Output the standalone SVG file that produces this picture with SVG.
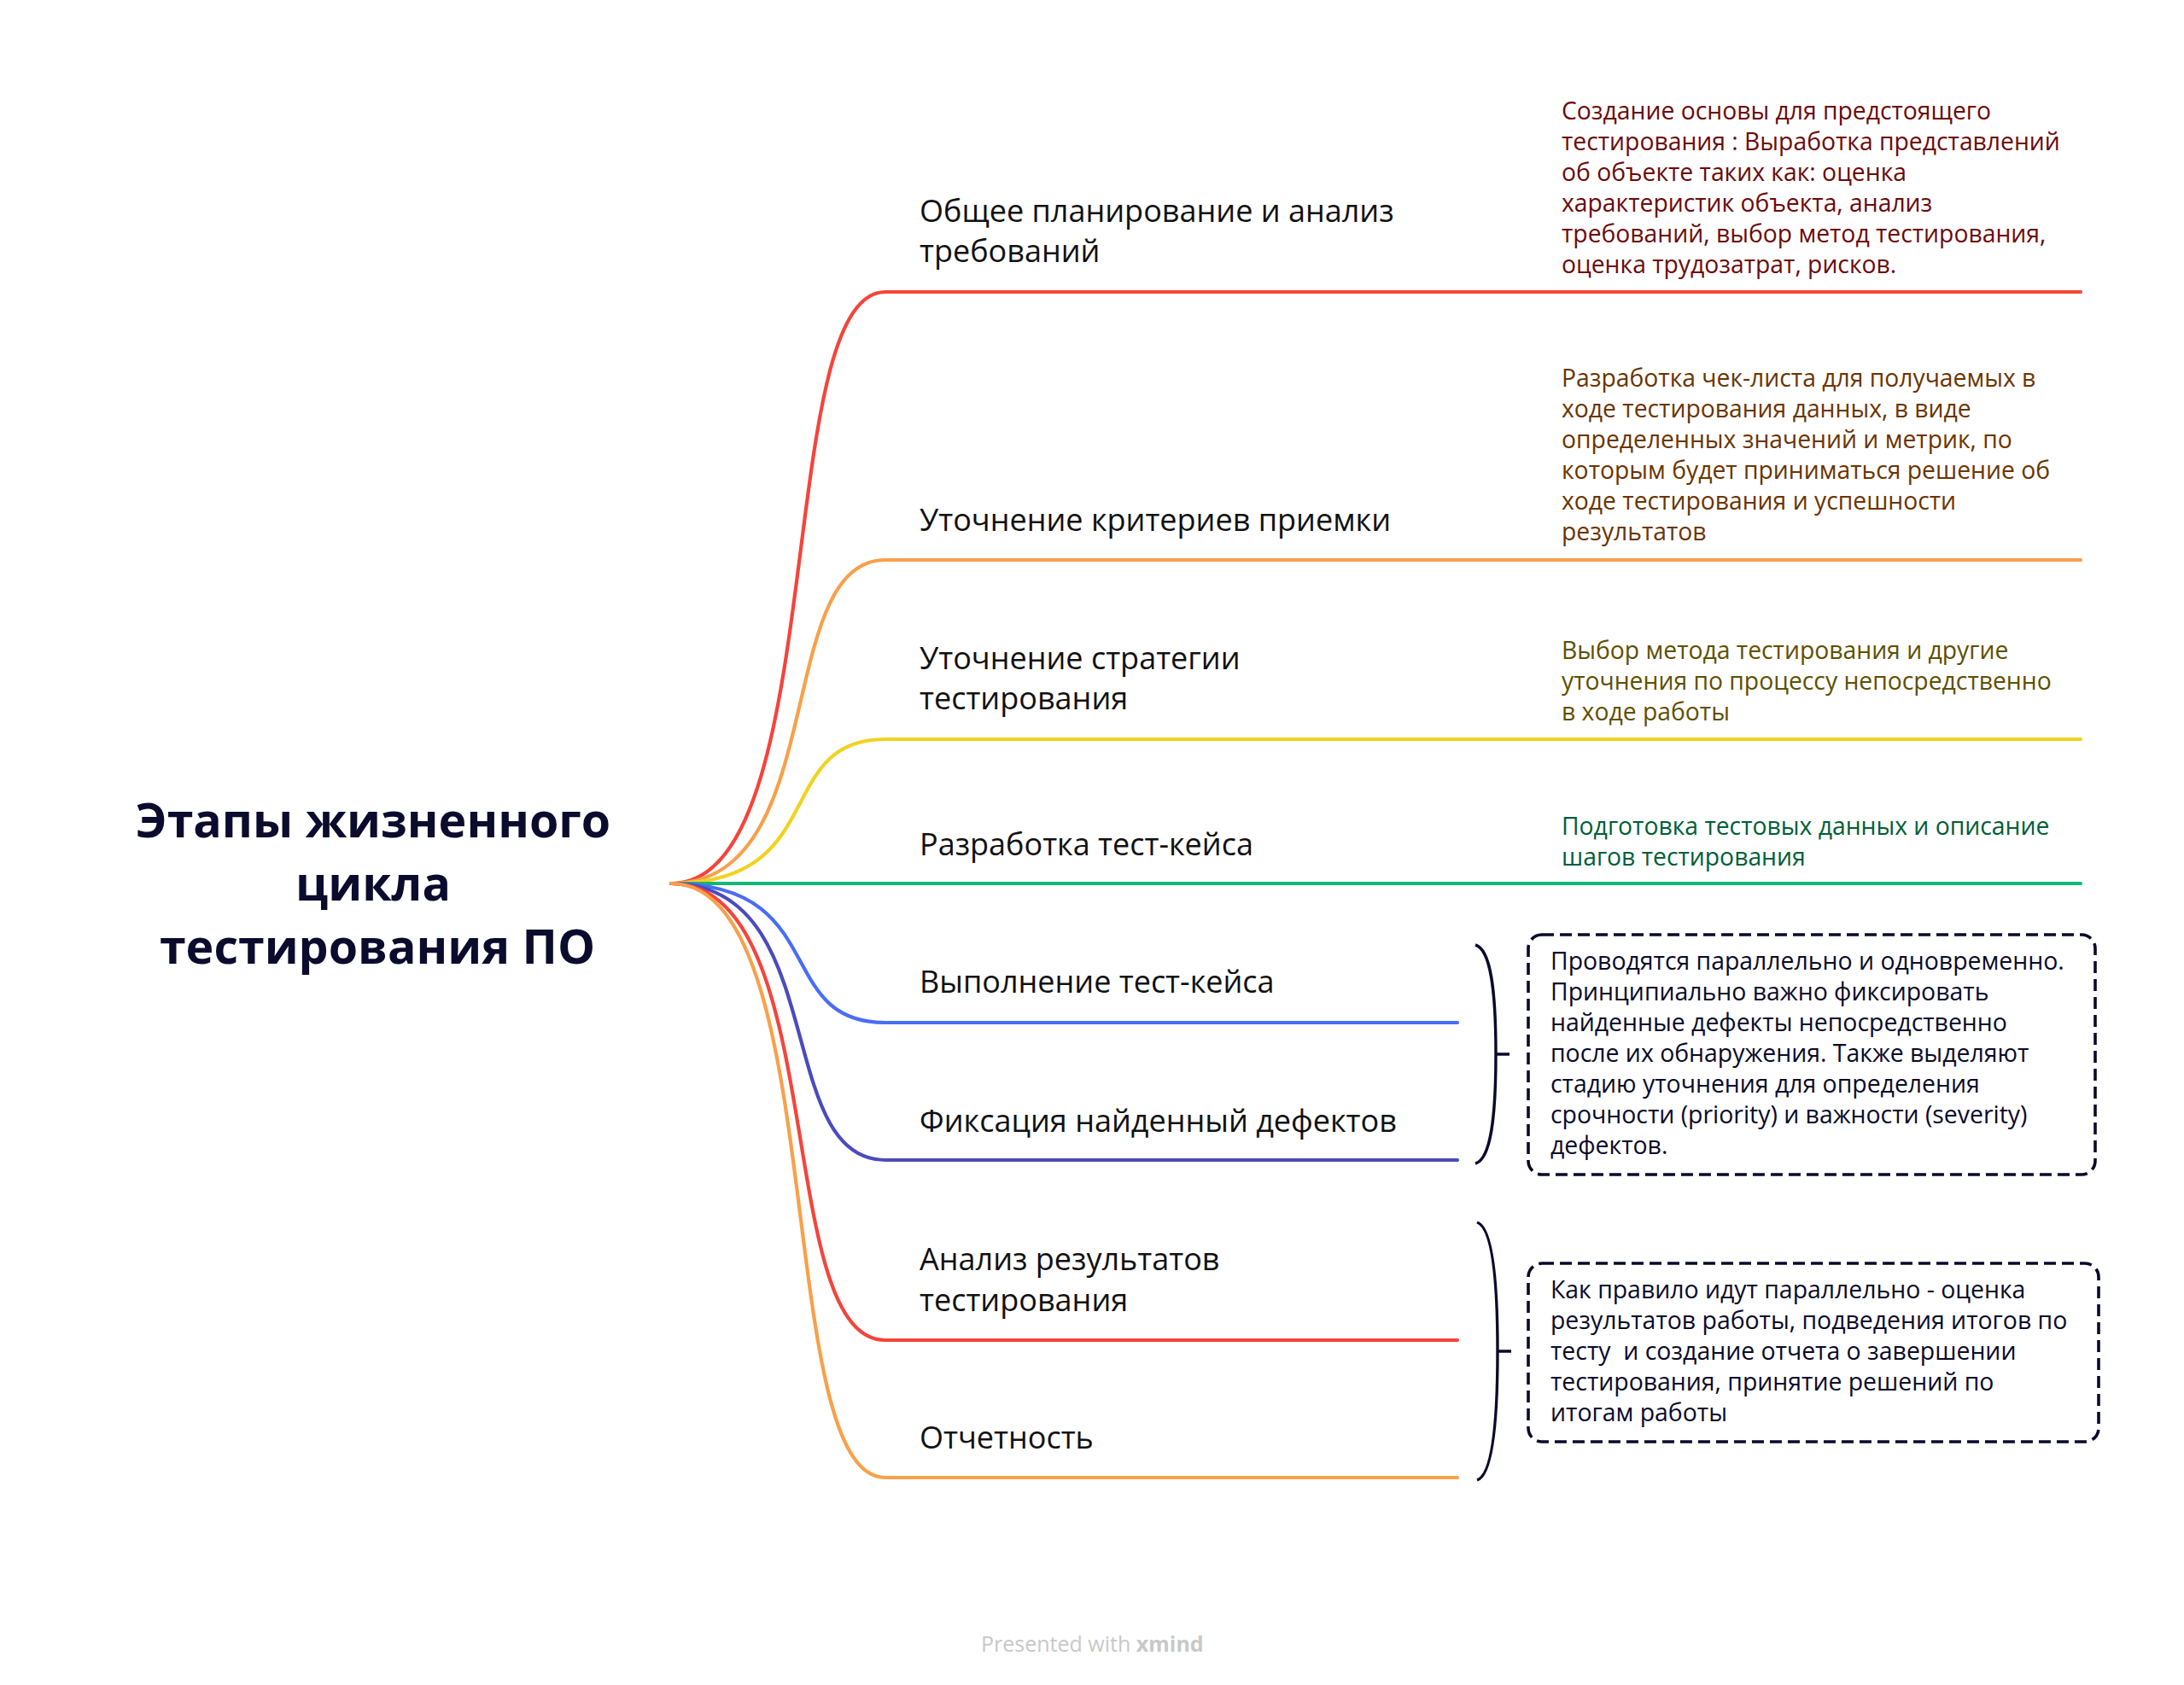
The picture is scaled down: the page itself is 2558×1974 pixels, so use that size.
<svg xmlns="http://www.w3.org/2000/svg" width="2558" height="1974" viewBox="0 0 2558 1974">
<style>
.bg{fill:#ffffff}
.ln{fill:none;stroke-width:4.2;stroke-linecap:round}
.root{font-family:"Open Sans","Noto Sans",sans-serif;font-weight:700;font-size:55.5px;fill:#0b0b2e;text-anchor:middle}
.t{font-family:"Open Sans","Noto Sans",sans-serif;font-size:36px;fill:#111111}
.d{font-family:"Open Sans","Noto Sans",sans-serif;font-size:28.3px}
.bx{fill:none;stroke:#0a0a2a;stroke-width:3.6;stroke-dasharray:14 7}
.br{fill:none;stroke:#0a0a2a;stroke-width:3.4}
.bt{font-family:"Open Sans","Noto Sans",sans-serif;font-size:28.4px;fill:#0a0a2a}
.ft{font-family:"Open Sans","Noto Sans",sans-serif;font-size:25px;fill:#c8c8c8}
</style>
<rect class="bg" x="0" y="0" width="2558" height="1974"/>
<g id="connectors">
<path class="ln" stroke="#f5443b" d="M786,1035 C974,1035 904,342 1037,342 H2437"/>
<path class="ln" stroke="#f8a04a" d="M786,1035 C974,1035 904,656 1037,656 H2437"/>
<path class="ln" stroke="#f2d222" d="M786,1035 C974,1035 904,866 1037,866 H2437"/>
<path class="ln" stroke="#12b876" d="M786,1035 H2437"/>
<path class="ln" stroke="#4a6cf7" d="M786,1035 C974,1035 904,1198 1037,1198 H1707"/>
<path class="ln" stroke="#4b4bbe" d="M786,1035 C974,1035 904,1359 1037,1359 H1707"/>
<path class="ln" stroke="#f5443b" d="M786,1035 C974,1035 904,1570 1037,1570 H1707"/>
<path class="ln" stroke="#f8a04a" d="M786,1035 C974,1035 904,1731 1037,1731 H1707"/>
</g>
<g id="root">
<text class="root" x="437" y="981">Этапы жизненного</text>
<text class="root" x="437" y="1055">цикла</text>
<text class="root" x="442" y="1129">тестирования ПО</text>
</g>
<g id="n1">
<text class="t" x="1077" y="260">Общее планирование и анализ</text>
<text class="t" x="1077" y="307">требований</text>
</g>
<g id="n1d">
<text class="d" fill="#6b0a0a"><tspan x="1829" y="140">Создание основы для предстоящего</tspan><tspan x="1829" y="176">тестирования : Выработка представлений</tspan><tspan x="1829" y="212">об объекте таких как: оценка</tspan><tspan x="1829" y="248">характеристик объекта, анализ</tspan><tspan x="1829" y="284">требований, выбор метод тестирования,</tspan><tspan x="1829" y="320">оценка трудозатрат, рисков.</tspan></text>
</g>
<g id="n2">
<text class="t" x="1077" y="622">Уточнение критериев приемки</text>
</g>
<g id="n2d">
<text class="d" fill="#6b3400"><tspan x="1829" y="453">Разработка чек-листа для получаемых в</tspan><tspan x="1829" y="489">ходе тестирования данных, в виде</tspan><tspan x="1829" y="525">определенных значений и метрик, по</tspan><tspan x="1829" y="561">которым будет приниматься решение об</tspan><tspan x="1829" y="597">ходе тестирования и успешности</tspan><tspan x="1829" y="633">результатов</tspan></text>
</g>
<g id="n3">
<text class="t" x="1077" y="784">Уточнение стратегии</text>
<text class="t" x="1077" y="831">тестирования</text>
</g>
<g id="n3d">
<text class="d" fill="#5e5000"><tspan x="1829" y="772">Выбор метода тестирования и другие</tspan><tspan x="1829" y="808">уточнения по процессу непосредственно</tspan><tspan x="1829" y="844">в ходе работы</tspan></text>
</g>
<g id="n4">
<text class="t" x="1077" y="1002">Разработка тест-кейса</text>
</g>
<g id="n4d">
<text class="d" fill="#005e37"><tspan x="1829" y="978">Подготовка тестовых данных и описание</tspan><tspan x="1829" y="1014">шагов тестирования</tspan></text>
</g>
<g id="n5">
<text class="t" x="1077" y="1163">Выполнение тест-кейса</text>
</g>
<g id="n6">
<text class="t" x="1077" y="1326">Фиксация найденный дефектов</text>
</g>
<g id="n7">
<text class="t" x="1077" y="1488">Анализ результатов</text>
<text class="t" x="1077" y="1536">тестирования</text>
</g>
<g id="n8">
<text class="t" x="1077" y="1697">Отчетность</text>
</g>
<g id="summary1">
<path class="br" d="M1728,1107 C1746,1112 1752,1160 1752,1235 C1752,1310 1746,1358 1728,1363 M1752,1235 H1768"/>
<rect class="bx" x="1790" y="1095" width="664" height="281" rx="16"/>
<text class="bt"><tspan x="1816" y="1136">Проводятся параллельно и одновременно.</tspan><tspan x="1816" y="1172">Принципиально важно фиксировать</tspan><tspan x="1816" y="1208">найденные дефекты непосредственно</tspan><tspan x="1816" y="1244">после их обнаружения. Также выделяют</tspan><tspan x="1816" y="1280">стадию уточнения для определения</tspan><tspan x="1816" y="1316">срочности (priority) и важности (severity)</tspan><tspan x="1816" y="1352">дефектов.</tspan></text>
</g>
<g id="summary2">
<path class="br" d="M1730,1432 C1748,1438 1754,1500 1754,1583 C1754,1666 1748,1728 1730,1734 M1754,1583 H1770"/>
<rect class="bx" x="1790" y="1480" width="668" height="209" rx="16"/>
<text class="bt" xml:space="preserve"><tspan x="1816" y="1521">Как правило идут параллельно - оценка</tspan><tspan x="1816" y="1557">результатов работы, подведения итогов по</tspan><tspan x="1816" y="1593">тесту  и создание отчета о завершении</tspan><tspan x="1816" y="1629">тестирования, принятие решений по</tspan><tspan x="1816" y="1665">итогам работы</tspan></text>
</g>
<g id="footer">
<text class="ft" x="1149" y="1935" xml:space="preserve">Presented with <tspan font-weight="700">xmind</tspan></text>
</g>
</svg>
